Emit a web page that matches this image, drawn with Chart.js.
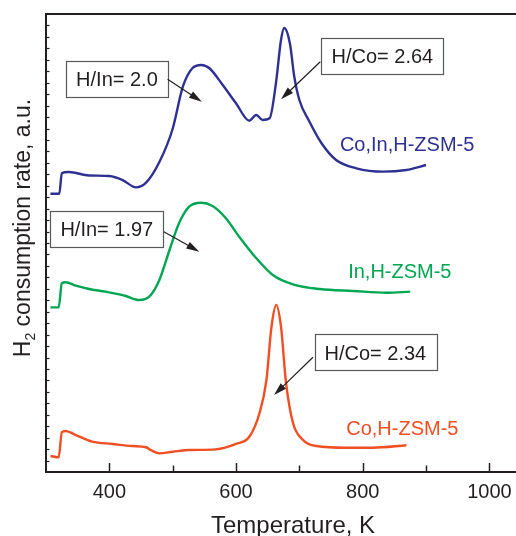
<!DOCTYPE html>
<html><head><meta charset="utf-8">
<script src="https://cdn.jsdelivr.net/npm/chart.js@4/dist/chart.umd.min.js"></script>
<style>html,body{margin:0;padding:0;background:#fff;overflow:hidden}canvas{display:block}</style>
</head><body>
<canvas id="c" width="516" height="536"></canvas>
<script>
// ---- data ----
const seriesNames = ['Co,In,H-ZSM-5', 'In,H-ZSM-5', 'Co,H-ZSM-5'];
const seriesColors = ['#2e3192', '#00a651', '#f04e23'];

const tempCoIn = [307,321,325,336,368,400,421,442,458,479,500,516,531,545,558,579,600,621,632,642,653,663,671,676,685,692,700,716,735,758,790,832,869,900];
const rateCoIn = [24.3,24.3,26.1,26.2,25.9,25.85,25.5,24.86,25.27,27.07,29.98,33.65,35.26,35.55,35.26,33.8,32.2,30.68,31.18,30.74,30.89,33.95,37.73,38.78,37.44,34.52,32.49,30.59,28.71,27.25,26.52,26.23,26.38,26.81];

const tempIn = [307,320,325,331,347,368,394,426,447,463,479,495,510,526,545,563,584,605,632,658,690,732,785,838,875];
const rateIn = [14.38,14.38,16.48,16.57,16.27,15.98,15.75,15.37,15.02,15.31,16.77,19.39,21.72,23.17,23.52,23.23,22.16,20.55,18.67,17.21,16.39,15.98,15.81,15.66,15.75];

const tempCo = [307,320,325,331,347,373,405,436,458,466,479,500,526,568,600,621,637,648,656,663.5,671,679,690,703,727,774,816,869];
const rateCo = [1.40,1.28,3.47,3.58,3.23,2.65,2.45,2.27,2.16,1.9,1.63,1.77,1.92,1.98,2.45,3.08,5.13,8.03,12.69,14.59,12.69,7.77,4.28,2.94,2.27,2.12,2.12,2.33];

const xTickLabels = [400, 600, 800, 1000];
const xMinorTicks = [500, 700, 900];

const ratioTexts = ['H/In= 2.0', 'H/Co= 2.64', 'H/In= 1.97', 'H/Co= 2.34'];
// box centre (T, a.u.), arrow start (T, a.u.), arrow tip (T, a.u.)
const ratioBoxAt   = [[412,34.35],[831,36.31],[396,21.25],[820,10.44]];
const ratioArrowFrom = [[492,34.30],[733,35.83],[486,20.99],[721.5,10.02]];
const ratioArrowTo   = [[546,32.34],[671,32.55],[542,19.24],[660,6.72]];
const seriesLabelAt = [[764,28.65],[777,17.55],[774,3.87]];

// ---- chart ----
const FONT = "'Liberation Sans', Arial, sans-serif";
const INK = '#231f20';

function seg(ctx, x1, y1, x2, y2) { ctx.beginPath(); ctx.moveTo(x1, y1); ctx.lineTo(x2, y2); ctx.stroke(); }
function arrow(ctx, x1, y1, x2, y2) {
  const a = Math.atan2(y2 - y1, x2 - x1), c = Math.cos(a), s = Math.sin(a);
  const L = 13, W = 3.8;
  const bx = x2 - L * c, by = y2 - L * s;
  ctx.lineWidth = 1.2; ctx.strokeStyle = INK; ctx.fillStyle = INK;
  seg(ctx, x1, y1, bx + 2 * c, by + 2 * s);
  ctx.beginPath(); ctx.moveTo(x2, y2); ctx.lineTo(bx + W * s, by - W * c); ctx.lineTo(bx - W * s, by + W * c); ctx.closePath(); ctx.fill();
}

const overlay = {
  id: 'overlay',
  afterDatasetsDraw(chart) {
    const { ctx, chartArea: a, scales: { x, y } } = chart;
    ctx.save();
    // inward ticks
    ctx.strokeStyle = INK; ctx.lineWidth = 1.5;
    x.ticks.forEach(t => {
      let len = 0;
      if (xTickLabels.includes(t.value)) len = 9; else if (xMinorTicks.includes(t.value)) len = 6.5;
      if (!len) return;
      const px = Math.round(x.getPixelForValue(t.value)) + 0.5;
      seg(ctx, px, a.bottom, px, a.bottom - len);
    });
    ctx.lineWidth = 1.2;
    y.ticks.forEach(t => {
      if (t.value <= y.min || t.value >= y.max) return;
      const py = Math.round(y.getPixelForValue(t.value)) + 0.5;
      seg(ctx, a.left, py, a.left + 3.5, py);
    });
    // frame
    const xr = x.getPixelForValue(x.max);
    ctx.strokeStyle = INK; ctx.lineWidth = 2;
    seg(ctx, a.left, a.top, xr, a.top);
    seg(ctx, a.left, a.top - 1, a.left, a.bottom + 1);
    seg(ctx, a.left - 1, a.bottom, xr, a.bottom);

    // ratio boxes + arrows
    ctx.font = '20px ' + FONT;
    ratioTexts.forEach((txt, i) => {
      const cx = x.getPixelForValue(ratioBoxAt[i][0]), cy = y.getPixelForValue(ratioBoxAt[i][1]);
      const w = ctx.measureText(txt).width + 20, h = 36;
      ctx.fillStyle = '#fff'; ctx.fillRect(cx - w / 2, cy - h / 2, w, h);
      ctx.strokeStyle = '#58595b'; ctx.lineWidth = 1.2;
      ctx.strokeRect(Math.round(cx - w / 2) + 0.5, Math.round(cy - h / 2) + 0.5, Math.round(w), h);
      ctx.fillStyle = INK; ctx.textAlign = 'center'; ctx.textBaseline = 'alphabetic';
      ctx.fillText(txt, cx, cy + 7.2);
      arrow(ctx, x.getPixelForValue(ratioArrowFrom[i][0]), y.getPixelForValue(ratioArrowFrom[i][1]),
                 x.getPixelForValue(ratioArrowTo[i][0]), y.getPixelForValue(ratioArrowTo[i][1]));
    });
    // series labels
    seriesNames.forEach((n, i) => {
      ctx.fillStyle = seriesColors[i]; ctx.textAlign = 'left'; ctx.textBaseline = 'alphabetic';
      ctx.fillText(n, x.getPixelForValue(seriesLabelAt[i][0]), y.getPixelForValue(seriesLabelAt[i][1]) + 7.2);
    });

    // x title
    ctx.fillStyle = INK; ctx.font = '24px ' + FONT; ctx.textAlign = 'center';
    ctx.fillText('Temperature, K', x.getPixelForValue(690), 533);

    // y title with subscript
    ctx.save();
    const big = '23px ' + FONT, small = '14px ' + FONT;
    ctx.font = big; const wH = ctx.measureText('H').width;
    const rest = ' consumption rate, a.u.'; const wR = ctx.measureText(rest).width;
    ctx.font = small; const w2 = ctx.measureText('2').width;
    const total = wH + w2 + wR;
    const cyT = 228;
    ctx.translate(30, cyT + total / 2);
    ctx.rotate(-Math.PI / 2);
    ctx.textAlign = 'left';
    ctx.font = big; ctx.fillText('H', 0, 0);
    ctx.font = small; ctx.fillText('2', wH, 5);
    ctx.font = big; ctx.fillText(rest, wH + w2, 0);
    ctx.restore();

    ctx.restore();
  }
};

function pts(t, v) { return t.map((tt, i) => ({ x: tt, y: v[i] })); }

new Chart(document.getElementById('c'), {
  type: 'line',
  data: {
    datasets: [
      { label: seriesNames[0], data: pts(tempCoIn, rateCoIn), borderColor: seriesColors[0] },
      { label: seriesNames[1], data: pts(tempIn, rateIn), borderColor: seriesColors[1] },
      { label: seriesNames[2], data: pts(tempCo, rateCo), borderColor: seriesColors[2] }
    ]
  },
  options: {
    responsive: false,
    animation: false,
    events: [],
    layout: { autoPadding: false, padding: { left: 0, right: 0, top: 14, bottom: 0 } },
    elements: {
      point: { radius: 0 },
      line: { borderWidth: 2.4, cubicInterpolationMode: 'monotone', fill: false }
    },
    plugins: { legend: { display: false }, tooltip: { enabled: false } },
    scales: {
      x: {
        type: 'linear', min: 300, max: 1042,
        grid: { display: false, drawTicks: false },
        border: { display: false },
        ticks: {
          stepSize: 100, includeBounds: false, autoSkip: false, maxRotation: 0, padding: 8,
          color: INK, font: { family: FONT, size: 20 },
          callback: v => xTickLabels.includes(v) ? String(v) : ''
        },
        afterFit: s => { s.height = 64; s.paddingLeft = 0; s.paddingRight = 0; }
      },
      y: {
        type: 'linear', min: 0, max: 40,
        grid: { display: false, drawTicks: false },
        border: { display: false },
        ticks: { display: false, stepSize: 1 },
        afterFit: s => { s.width = 46; s.paddingTop = 0; s.paddingBottom = 0; }
      }
    }
  },
  plugins: [overlay]
});
</script>
</body></html>
